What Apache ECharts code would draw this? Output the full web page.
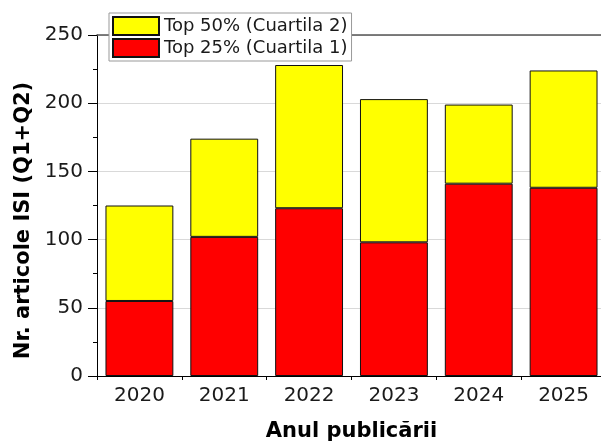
<!DOCTYPE html>
<html>
<head>
<meta charset="utf-8">
<script src="https://cdn.jsdelivr.net/npm/echarts@6/dist/echarts.min.js"></script>
<style>html,body{margin:0;padding:0;background:#fff}#c{width:601px;height:441px}</style>
</head>
<body>
<div id="c"></div>
<script>
var years = ['2020', '2021', '2022', '2023', '2024', '2025'];
var q1 = [55, 102, 123, 98, 141, 138];
var total = [125, 174, 228, 203, 199, 224];
var q2 = total.map(function (t, i) { return t - q1[i]; });
var nameQ1 = 'Top 25% (Cuartila 1)';
var nameQ2 = 'Top 50% (Cuartila 2)';
var yTicks = [0, 50, 100, 150, 200, 250];

var chart = echarts.init(document.getElementById('c'));
var font = 'DejaVu Sans';
chart.setOption({
  animation: false,
  backgroundColor: '#fff',
  grid: { left: 97, top: 35, width: 509, height: 341, outerBoundsMode: 'none', containLabel: false },
  legend: {
    data: [nameQ2, nameQ1],
    orient: 'vertical',
    left: 109, top: 13,
    icon: 'rect',
    itemWidth: 46, itemHeight: 18, itemGap: 2, itemTextGap: 7,
    padding: [3, 4, 3, 3],
    backgroundColor: '#fff',
    borderColor: '#999', borderWidth: 1,
    textStyle: { fontFamily: font, fontSize: 18, color: '#1a1a1a' }
  },
  xAxis: [{
    type: 'category', data: years, position: 'bottom',
    axisLine: { lineStyle: { color: '#000', width: 1 } },
    axisTick: { alignWithLabel: true, length: 6, lineStyle: { color: '#000' } },
    axisLabel: { fontFamily: font, fontSize: 20, color: '#1a1a1a', margin: 10 },
    name: 'Anul publicării', nameLocation: 'middle', nameGap: 45,
    nameTextStyle: { fontFamily: font, fontSize: 21, fontWeight: 'bold', color: '#000' }
  }, {
    type: 'category', data: years, position: 'bottom',
    axisLine: { show: false },
    axisTick: { show: true, length: 4, lineStyle: { color: '#000' } },
    axisLabel: { show: false }
  }, {
    type: 'category', data: years, position: 'top',
    axisLine: { show: true, lineStyle: { color: '#555', width: 1.5 } },
    axisTick: { show: false }, axisLabel: { show: false }
  }],
  yAxis: {
    type: 'value', min: yTicks[0], max: yTicks[yTicks.length - 1], interval: 50,
    axisLine: { show: true, lineStyle: { color: '#000', width: 1 } },
    axisTick: { show: true, length: 9, lineStyle: { color: '#000' } },
    minorTick: { show: true, splitNumber: 2, length: 4, lineStyle: { color: '#000' } },
    splitLine: { lineStyle: { color: '#d9d9d9', width: 1 } },
    axisLabel: { fontFamily: font, fontSize: 20, color: '#1a1a1a', margin: 14 },
    name: 'Nr. articole ISI (Q1+Q2)', nameLocation: 'middle', nameGap: 60,
    nameTextStyle: { fontFamily: font, fontSize: 21, fontWeight: 'bold', color: '#000', padding: [0, 30, 0, 0] }
  },
  series: [{
    name: nameQ1, type: 'bar', stack: 'a', data: q1, barWidth: '80%',
    itemStyle: { color: '#ff0000', borderColor: '#111', borderWidth: 1 }
  }, {
    name: nameQ2, type: 'bar', stack: 'a', data: q2, barWidth: '80%',
    itemStyle: { color: '#ffff00', borderColor: '#111', borderWidth: 1 }
  }]
});
</script>
</body>
</html>
